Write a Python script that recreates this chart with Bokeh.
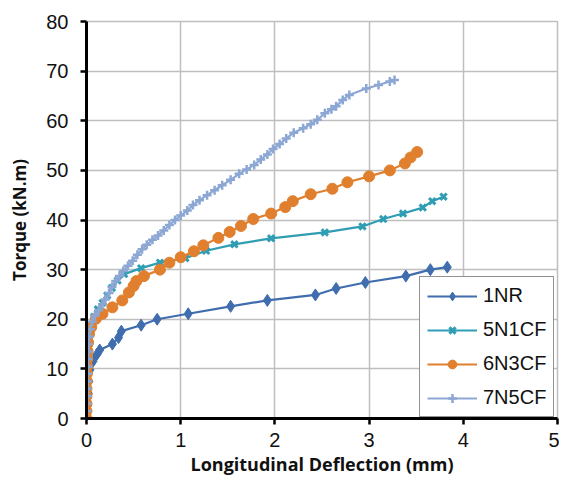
from bokeh.plotting import figure
from bokeh.models import Range1d, FixedTicker, Legend, LegendItem
from bokeh.embed import file_html
from bokeh.resources import INLINE

# ---------------- data ----------------
series_names = ["1NR", "5N1CF", "6N3CF", "7N5CF"]

x_1nr = [0, 0.01, 0.02, 0.025, 0.035, 0.068, 0.11, 0.14, 0.275, 0.34, 0.37, 0.58,
         0.75, 1.08, 1.53, 1.92, 2.43, 2.65, 2.96, 3.39, 3.65, 3.83]
y_1nr = [0, 2.5, 5, 7.5, 9.8, 11.5, 12.9, 13.8, 15.0, 16.3, 17.6, 18.8,
         20.0, 21.1, 22.6, 23.8, 24.9, 26.2, 27.4, 28.7, 30.0, 30.5]

x_5n1cf = [0, 0.005, 0.01, 0.01, 0.015, 0.02, 0.025, 0.03, 0.05, 0.08,
           0.12, 0.17, 0.22, 0.27, 0.33, 0.40, 0.58, 0.78, 1.05, 1.27,
           1.57, 1.96, 2.53, 2.93, 3.15, 3.36, 3.57, 3.67, 3.79]
y_5n1cf = [0, 2.5, 5, 7.5, 10, 12.5, 15, 17, 18.8, 20.5,
           22, 23.3, 24.8, 26.3, 27.8, 29.1, 30.3, 31.4, 32.3, 33.8,
           35.1, 36.3, 37.5, 38.7, 40.2, 41.3, 42.5, 43.8, 44.7]

x_6n3cf = [0, 0, 0, 0, 0, 0.002, 0.004, 0.006, 0.008, 0.012,
           0.017, 0.027, 0.05, 0.10, 0.17, 0.275, 0.38, 0.45, 0.50, 0.53,
           0.61, 0.78, 0.88, 1.0, 1.14, 1.24, 1.40, 1.52, 1.64, 1.77,
           1.96, 2.11, 2.19, 2.38, 2.61, 2.77, 3.0, 3.22, 3.38, 3.44, 3.51]
y_6n3cf = [0, 1.5, 3, 4.5, 6, 7.5, 9, 10.5, 12, 13.5,
           15.3, 17.0, 18.4, 20.1, 21.1, 22.4, 23.8, 25.4, 26.7, 27.7,
           28.7, 30.0, 31.4, 32.5, 33.7, 34.9, 36.4, 37.6, 38.8, 40.2,
           41.3, 42.6, 43.8, 45.2, 46.3, 47.6, 48.8, 50.0, 51.4, 52.6, 53.7]

x_7n5cf = [0, 0.005, 0.005, 0.01, 0.01, 0.01, 0.01, 0.015, 0.015, 0.02,
           0.02, 0.03, 0.04, 0.06, 0.09, 0.13, 0.17, 0.2, 0.24, 0.27,
           0.31, 0.35, 0.39, 0.44, 0.49, 0.54, 0.59, 0.64, 0.7, 0.76,
           0.82, 0.88, 0.94, 1.0, 1.07, 1.13, 1.2, 1.28, 1.36, 1.44,
           1.53, 1.62, 1.7, 1.78, 1.85, 1.92, 1.98, 2.05, 2.12, 2.2,
           2.3, 2.38, 2.45, 2.53, 2.6, 2.65, 2.72, 2.79, 2.97, 3.1,
           3.22, 3.27]
y_7n5cf = [0, 1.5, 3, 4.5, 6, 7.5, 9, 10.5, 12, 13.5,
           15, 16.5, 18, 19.5, 20.7, 21.8, 23, 24, 25.3, 26.5,
           27.7, 28.7, 29.7, 30.8, 31.8, 33, 34.1, 35.0, 36, 36.9,
           37.9, 39, 40, 40.9, 41.9, 43, 44, 45, 46, 47,
           48.1, 49.3, 50.2, 51.1, 52.2, 53.2, 54.3, 55.3, 56.4, 57.6,
           58.5, 59.3, 60.2, 61.5, 62.3, 62.9, 64.2, 65.2, 66.5, 67.2,
           67.9, 68.2]

x_ticks = [0, 1, 2, 3, 4, 5]
y_ticks = [0, 10, 20, 30, 40, 50, 60, 70, 80]

x_title = "Longitudinal Deflection (mm)"
y_title = "Torque (kN.m)"

# ---------------- figure ----------------
p = figure(width=559, height=478, x_range=Range1d(0, 5), y_range=Range1d(0, 80),
           output_backend="svg", toolbar_location=None,
           min_border_left=86, min_border_right=2, min_border_top=21, min_border_bottom=56)
p.background_fill_color = "white"
p.border_fill_color = "white"
p.outline_line_color = "#BFBFBF"
p.outline_line_width = 1.5

p.xaxis.ticker = FixedTicker(ticks=x_ticks)
p.yaxis.ticker = FixedTicker(ticks=y_ticks)
p.grid.grid_line_color = "#BFBFBF"
p.grid.grid_line_width = 1.5

for ax in (p.xaxis[0], p.yaxis[0]):
    ax.axis_line_color = "black"
    ax.axis_line_width = 3
    ax.major_tick_line_color = "black"
    ax.major_tick_line_width = 2.5
    ax.major_tick_out = 6
    ax.major_tick_in = 0
    ax.minor_tick_line_color = None
    ax.major_label_text_font = "Liberation Sans"
    ax.major_label_text_font_size = "20px"
    ax.major_label_text_color = "#111111"
    ax.axis_label_text_font = "Open Sans"
    ax.axis_label_text_font_style = "bold"
    ax.axis_label_text_color = "#111111"

p.xaxis.axis_label = x_title
p.yaxis.axis_label = y_title
p.xaxis.axis_label_text_font_size = "18px"
p.yaxis.axis_label_text_font_size = "17px"
p.xaxis.major_label_standoff = 8
p.xaxis.axis_label_standoff = 2
p.yaxis.major_label_standoff = 12
p.yaxis.axis_label_standoff = 12

colors = ["#3F6DAE", "#2F9DB3", "#E0802F", "#8DA7D4"]
data = [(x_1nr, y_1nr), (x_5n1cf, y_5n1cf), (x_6n3cf, y_6n3cf), (x_7n5cf, y_7n5cf)]
markers = [
    dict(marker="diamond", size=12, line_width=1),
    dict(marker="x", size=9, line_width=3),
    dict(marker="circle", size=11, line_width=1),
    dict(marker="cross", size=9, line_width=2.5),
]

items = []
for name, (xs, ys), c, m in zip(series_names, data, colors, markers):
    ln = p.line(xs, ys, line_color=c, line_width=2.2)
    sc = p.scatter(xs, ys, marker=m["marker"], size=m["size"], fill_color=c,
                   line_color=c, line_width=m["line_width"])
    items.append(LegendItem(label=name, renderers=[ln, sc]))

legend = Legend(items=items, location=(333, 1))
legend.border_line_color = "#262626"
legend.border_line_width = 1.5
legend.background_fill_color = "white"
legend.background_fill_alpha = 1
legend.label_text_font = "Liberation Sans"
legend.label_text_font_size = "20px"
legend.label_text_color = "#111111"
legend.glyph_width = 50
legend.glyph_height = 22
legend.label_height = 22
legend.spacing = 11
legend.padding = 7
legend.margin = 0
legend.label_standoff = 6
p.add_layout(legend, "center")

open("out.html", "w").write(file_html(p, INLINE))
